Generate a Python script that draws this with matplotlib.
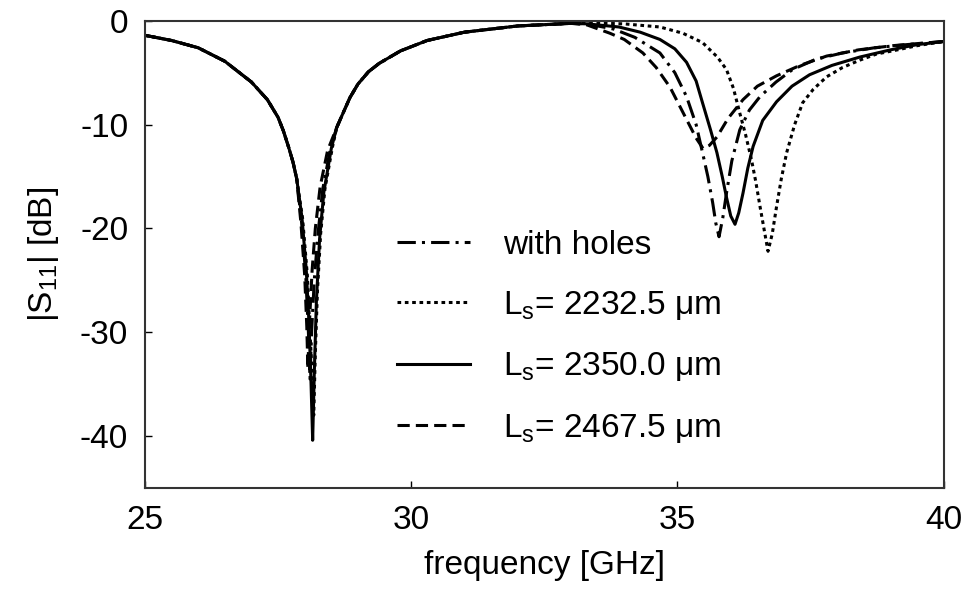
import matplotlib
matplotlib.use("Agg")
import matplotlib.pyplot as plt

plt.rcParams['font.family'] = ['Liberation Sans', 'DejaVu Sans']
plt.rcParams['mathtext.fontset'] = 'custom'
plt.rcParams['mathtext.rm'] = 'Liberation Sans'
plt.rcParams['mathtext.it'] = 'Liberation Sans'
plt.rcParams['axes.unicode_minus'] = False

# shared part of the first resonance
f_left = [25.0, 25.5, 26.0, 26.5, 27.0, 27.3, 27.5, 27.6, 27.7, 27.78, 27.85]
s_left = [-1.4, -1.9, -2.6, -3.9, -5.9, -7.6, -9.3, -10.6, -12.2, -13.6, -15.2]
f_mid = [28.6, 28.72, 28.85, 29.0, 29.2, 29.4, 29.8, 30.3, 31.0, 32.0, 33.0]
s_mid = [-10.3, -8.9, -7.4, -6.1, -4.9, -4.1, -2.9, -1.9, -1.1, -0.5, -0.25]

# with holes (dash-dot)
f_holes_dip = [27.94, 28.02, 28.07, 28.10, 28.13, 28.18, 28.25, 28.34, 28.48]
s_holes_dip = [-19.3, -24.5, -30.0, -34.5, -30.0, -25.0, -20.5, -16.2, -12.4]
f_holes_hi = [33.3, 33.8, 34.2, 34.67, 34.95, 35.17, 35.35, 35.47, 35.57, 35.66, 35.72, 35.78,
              35.85, 35.92, 36.02, 36.17, 36.35, 36.55, 36.85, 37.16, 37.6, 38.1, 38.7, 39.3, 40.0]
s_holes_hi = [-0.3, -0.8, -1.6, -3.1, -5.0, -7.3, -10.0, -12.7, -15.0, -17.5, -19.5, -20.8,
              -19.0, -16.6, -13.5, -10.5, -8.6, -7.3, -5.9, -4.7, -3.7, -3.1, -2.6, -2.3, -2.0]

# Ls = 2232.5 um (dotted)
f_a_dip = [27.96, 28.05, 28.10, 28.14, 28.17, 28.20, 28.24, 28.30, 28.38, 28.52]
s_a_dip = [-19.0, -24.5, -30.0, -34.0, -38.0, -32.0, -26.0, -20.5, -16.2, -12.2]
f_a_hi = [33.3, 34.0, 34.67, 35.1, 35.47, 35.75, 35.92, 36.05, 36.17, 36.28, 36.39, 36.47, 36.55,
          36.63, 36.70, 36.78, 36.86, 36.95, 37.05, 37.2, 37.35, 37.55, 37.8, 38.1, 38.42, 38.74,
          39.04, 39.5, 40.0]
s_a_hi = [-0.2, -0.3, -0.6, -1.2, -2.1, -3.5, -4.7, -6.5, -8.9, -11.0, -13.4, -15.5, -17.9,
          -20.2, -22.2, -20.5, -17.9, -15.2, -12.7, -10.0, -7.9, -6.6, -5.4, -4.5, -3.8, -3.2,
          -2.9, -2.4, -2.0]

# Ls = 2350.0 um (solid)
f_b_dip = [27.95, 28.03, 28.08, 28.12, 28.15, 28.18, 28.22, 28.28, 28.36, 28.50]
s_b_dip = [-19.0, -24.0, -29.0, -35.0, -40.4, -34.0, -27.0, -21.0, -16.5, -12.3]
f_b_hi = [33.3, 33.9, 34.3, 34.67, 34.95, 35.17, 35.35, 35.47, 35.62, 35.74, 35.84, 35.92, 36.0,
          36.08, 36.15, 36.23, 36.32, 36.42, 36.6, 36.86, 37.15, 37.48, 37.9, 38.42, 39.0, 39.5, 40.0]
s_b_hi = [-0.3, -0.6, -1.1, -1.8, -2.7, -4.0, -5.8, -7.9, -10.5, -12.7, -15.0, -17.0, -18.8,
          -19.6, -18.5, -16.6, -14.2, -12.1, -9.6, -7.8, -6.3, -5.2, -4.3, -3.5, -2.8, -2.3, -2.0]

# Ls = 2467.5 um (dashed)
f_c_dip = [27.93, 28.00, 28.04, 28.06, 28.09, 28.14, 28.20, 28.29, 28.43]
s_c_dip = [-19.5, -24.5, -29.5, -33.5, -29.0, -24.0, -20.0, -16.0, -12.5]
f_c_hi = [33.3, 33.73, 34.0, 34.35, 34.6, 34.86, 35.17, 35.35, 35.48, 35.6, 35.74, 35.95, 36.23,
          36.5, 36.86, 37.3, 37.8, 38.4, 39.04, 39.5, 40.0]
s_c_hi = [-0.4, -1.2, -1.8, -3.1, -4.5, -6.4, -9.5, -11.3, -12.3, -12.0, -11.2, -9.4, -7.6,
          -6.3, -5.3, -4.3, -3.4, -2.8, -2.4, -2.2, -2.0]

labels = ['with holes', 'L$_{\\rm s}$= 2232.5 \u03bcm',
          'L$_{\\rm s}$= 2350.0 \u03bcm', 'L$_{\\rm s}$= 2467.5 \u03bcm']

series = [
    (f_holes_dip, s_holes_dip, f_holes_hi, s_holes_hi, (0, (6, 2, 1, 2))),
    (f_a_dip, s_a_dip, f_a_hi, s_a_hi, (0, (1.2, 1.2))),
    (f_b_dip, s_b_dip, f_b_hi, s_b_hi, '-'),
    (f_c_dip, s_c_dip, f_c_hi, s_c_hi, (0, (4, 2))),
]

fig = plt.figure(figsize=(9.66, 5.93), dpi=100)
ax = fig.add_axes([0.150, 0.177, 0.827, 0.788])

for (fd, sd, fh, sh, ls), lab in zip(series, labels):
    f = f_left + fd + f_mid + fh
    s = s_left + sd + s_mid + sh
    ax.plot(f, s, color='black', linestyle=ls, linewidth=2.2, label=lab)

ax.set_xlim(25, 40)
ax.set_ylim(-45, 0)
ax.set_xticks([25, 30, 35, 40])
ax.set_yticks([0, -10, -20, -30, -40])
ax.tick_params(direction='in', length=5, width=1, labelsize=24, pad=12)
for sp in ax.spines.values():
    sp.set_linewidth(1.5)
    sp.set_color('#333333')

ax.set_xlabel('frequency [GHz]', fontsize=24, labelpad=10)
ax.set_ylabel('|S$_{11}$| [dB]', fontsize=24, labelpad=14)

ax.legend(loc='upper left', bbox_to_anchor=(0.315, 0.553), frameon=False, fontsize=24,
          handlelength=2.2, handletextpad=1.0, labelspacing=0.85, borderpad=0, borderaxespad=0)

fig.savefig('out.png', dpi=100)
